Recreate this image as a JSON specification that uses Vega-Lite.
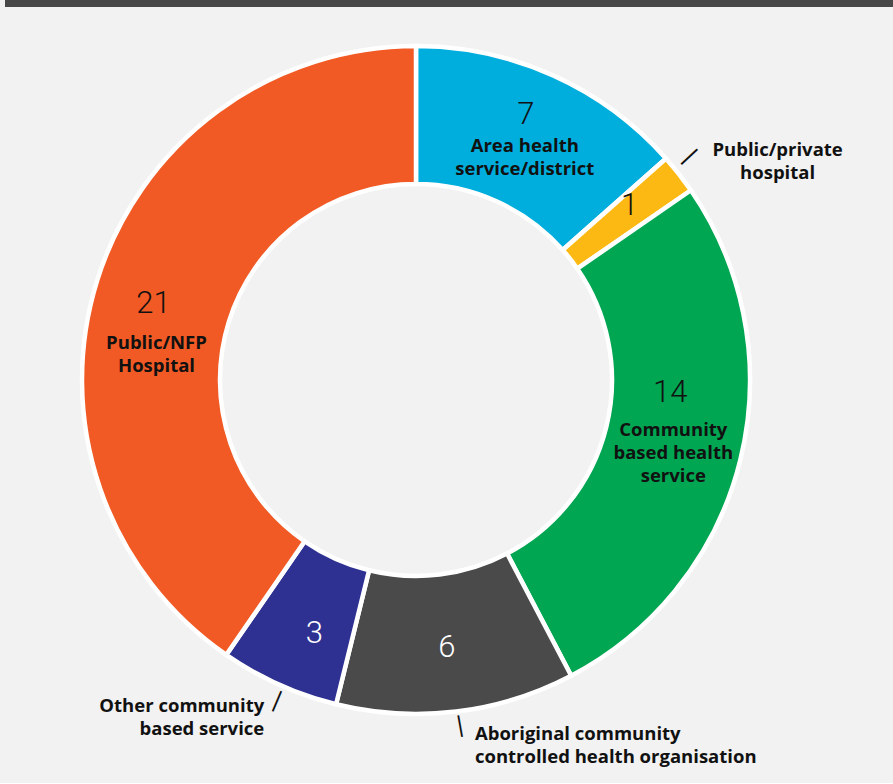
{
  "$schema": "https://vega.github.io/schema/vega-lite/v6.json",
  "background": "#f2f2f2",
  "padding": {"left": 5, "top": 0, "right": 0, "bottom": 16},
  "spacing": 0,
  "config": {"view": {"stroke": null}},
  "datasets": {
    "segments": [
      {"segment": "Area health service/district", "label": "Area health\nservice/district", "count": 7, "order": 1},
      {"segment": "Public/private hospital", "label": "Public/private\nhospital", "count": 1, "order": 2},
      {"segment": "Community based health service", "label": "Community\nbased health\nservice", "count": 14, "order": 3},
      {"segment": "Aboriginal community controlled health organisation", "label": "Aboriginal community\ncontrolled health organisation", "count": 6, "order": 4},
      {"segment": "Other community based service", "label": "Other community\nbased service", "count": 3, "order": 5},
      {"segment": "Public/NFP Hospital", "label": "Public/NFP\nHospital", "count": 21, "order": 6}
    ]
  },
  "vconcat": [
    {
      "width": 888,
      "height": 7,
      "view": {"fill": "#484848", "stroke": null},
      "data": {"values": [{"band": "header"}]},
      "mark": {"type": "rect", "color": "#484848"},
      "encoding": {}
    },
    {
      "width": 822,
      "height": 746,
      "data": {"name": "segments"},
      "encoding": {
        "theta": {"field": "count", "type": "quantitative", "stack": true},
        "order": {"field": "order", "type": "quantitative"},
        "detail": {"field": "segment", "type": "nominal"}
      },
      "layer": [
        {
          "mark": {"type": "arc", "outerRadius": 334, "innerRadius": 196, "stroke": "#ffffff", "strokeWidth": 4.5},
          "encoding": {
            "color": {
              "field": "segment",
              "type": "nominal",
              "scale": {
                "domain": ["Area health service/district", "Public/private hospital", "Community based health service", "Aboriginal community controlled health organisation", "Other community based service", "Public/NFP Hospital"],
                "range": ["#00AEDE", "#FDB913", "#00A651", "#4A4A4B", "#2E3192", "#F15A24"]
              },
              "legend": null
            }
          }
        },
        {
          "mark": {"type": "text", "radius": 265, "dx": 1, "dy": -14, "font": "Roboto", "fontWeight": 300, "fontSize": 31, "align": "center", "baseline": "alphabetic", "color": "#111111"},
          "encoding": {"text": {"condition": {"test": "datum.order === 1", "field": "count", "type": "quantitative"}, "value": ""}}
        },
        {
          "mark": {"type": "text", "radius": 265, "dx": 5, "dy": -2, "font": "Roboto", "fontWeight": 300, "fontSize": 31, "align": "center", "baseline": "alphabetic", "color": "#111111"},
          "encoding": {"text": {"condition": {"test": "datum.order === 2", "field": "count", "type": "quantitative"}, "value": ""}}
        },
        {
          "mark": {"type": "text", "radius": 265, "dx": -3, "dy": -41, "font": "Roboto", "fontWeight": 300, "fontSize": 31, "align": "center", "baseline": "alphabetic", "color": "#111111"},
          "encoding": {"text": {"condition": {"test": "datum.order === 3", "field": "count", "type": "quantitative"}, "value": ""}}
        },
        {
          "mark": {"type": "text", "radius": 265, "dx": -1, "dy": 14, "font": "Roboto", "fontWeight": 300, "fontSize": 31, "align": "center", "baseline": "alphabetic", "color": "#ffffff"},
          "encoding": {"text": {"condition": {"test": "datum.order === 4", "field": "count", "type": "quantitative"}, "value": ""}}
        },
        {
          "mark": {"type": "text", "radius": 265, "dx": 7, "dy": 21, "font": "Roboto", "fontWeight": 300, "fontSize": 31, "align": "center", "baseline": "alphabetic", "color": "#ffffff"},
          "encoding": {"text": {"condition": {"test": "datum.order === 5", "field": "count", "type": "quantitative"}, "value": ""}}
        },
        {
          "mark": {"type": "text", "radius": 265, "dx": -9.5, "dy": 12, "font": "Roboto", "fontWeight": 300, "fontSize": 31, "align": "center", "baseline": "alphabetic", "color": "#111111"},
          "encoding": {"text": {"condition": {"test": "datum.order === 6", "field": "count", "type": "quantitative"}, "value": ""}}
        },
        {
          "mark": {"type": "text", "radius": 265, "dx": 0, "dy": 13.5, "font": "Open Sans", "fontWeight": "bold", "fontSize": 18.5, "lineHeight": 23, "lineBreak": "\n", "align": "center", "baseline": "alphabetic", "color": "#111111"},
          "encoding": {"text": {"condition": {"test": "datum.order === 1", "field": "label", "type": "nominal"}, "value": ""}}
        },
        {
          "mark": {"type": "text", "radius": 265, "dx": 153, "dy": -61, "font": "Open Sans", "fontWeight": "bold", "fontSize": 18.5, "lineHeight": 23, "lineBreak": "\n", "align": "center", "baseline": "alphabetic", "color": "#111111"},
          "encoding": {"text": {"condition": {"test": "datum.order === 2", "field": "label", "type": "nominal"}, "value": ""}}
        },
        {
          "mark": {"type": "text", "radius": 265, "dx": 0, "dy": -7, "font": "Open Sans", "fontWeight": "bold", "fontSize": 18.5, "lineHeight": 23, "lineBreak": "\n", "align": "center", "baseline": "alphabetic", "color": "#111111"},
          "encoding": {"text": {"condition": {"test": "datum.order === 3", "field": "label", "type": "nominal"}, "value": ""}}
        },
        {
          "mark": {"type": "text", "radius": 265, "dx": 27, "dy": 97, "font": "Open Sans", "fontWeight": "bold", "fontSize": 18.5, "lineHeight": 23, "lineBreak": "\n", "align": "left", "baseline": "alphabetic", "color": "#111111"},
          "encoding": {"text": {"condition": {"test": "datum.order === 4", "field": "label", "type": "nominal"}, "value": ""}}
        },
        {
          "mark": {"type": "text", "radius": 265, "dx": -43, "dy": 90, "font": "Open Sans", "fontWeight": "bold", "fontSize": 18.5, "lineHeight": 23, "lineBreak": "\n", "align": "right", "baseline": "alphabetic", "color": "#111111"},
          "encoding": {"text": {"condition": {"test": "datum.order === 5", "field": "label", "type": "nominal"}, "value": ""}}
        },
        {
          "mark": {"type": "text", "radius": 265, "dx": -6.5, "dy": 47.5, "font": "Open Sans", "fontWeight": "bold", "fontSize": 18.5, "lineHeight": 23, "lineBreak": "\n", "align": "center", "baseline": "alphabetic", "color": "#111111"},
          "encoding": {"text": {"condition": {"test": "datum.order === 6", "field": "label", "type": "nominal"}, "value": ""}}
        },
        {
          "mark": {"type": "text", "radius": 351, "angle": 47, "dx": -7, "dy": -3.5, "font": "DejaVu Sans", "fontSize": 22, "align": "center", "baseline": "middle", "color": "#111111"},
          "encoding": {"text": {"condition": {"test": "datum.order === 2", "value": "|"}, "value": ""}}
        },
        {
          "mark": {"type": "text", "radius": 351, "angle": 350, "dx": 2.3, "dy": -3, "font": "DejaVu Sans", "fontSize": 22, "align": "center", "baseline": "middle", "color": "#111111"},
          "encoding": {"text": {"condition": {"test": "datum.order === 4", "value": "|"}, "value": ""}}
        },
        {
          "mark": {"type": "text", "radius": 351, "angle": 23, "dx": 5, "dy": -2, "font": "DejaVu Sans", "fontSize": 22, "align": "center", "baseline": "middle", "color": "#111111"},
          "encoding": {"text": {"condition": {"test": "datum.order === 5", "value": "|"}, "value": ""}}
        }
      ]
    }
  ]
}
